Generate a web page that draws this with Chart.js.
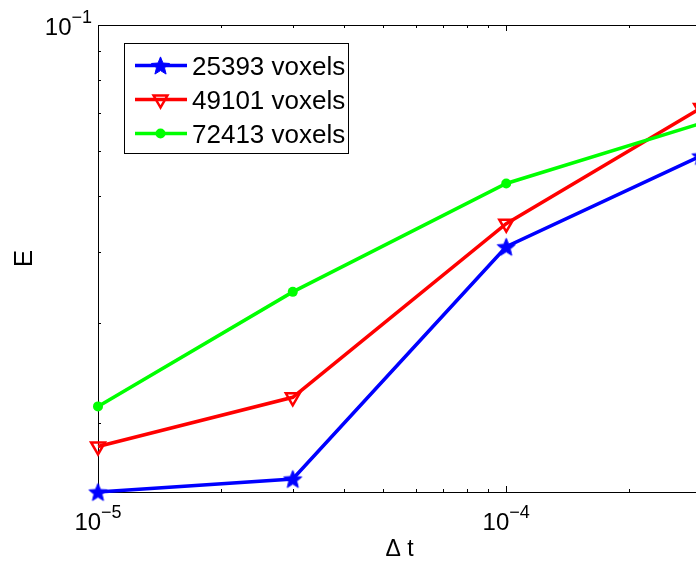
<!DOCTYPE html>
<html>
<head>
<meta charset="utf-8">
<script src="https://cdn.jsdelivr.net/npm/chart.js@4.4.0/dist/chart.umd.min.js"></script>
<style>
    html, body { margin: 0; padding: 0; background: #fff; overflow: hidden; }
    #wrap { width: 722px; height: 565px; position: relative; }
</style>
</head>
<body>
<div id="wrap"><canvas id="errChart"></canvas></div>
<script>
// data (log-log)
const dtValues = [1e-5, 3e-5, 1e-4, 3e-4];
const err25393 = [0.01514, 0.01596, 0.0408, 0.0589];
const err49101 = [0.0182, 0.0222, 0.0448, 0.0715];
const err72413 = [0.0214, 0.0340, 0.0527, 0.0672];
const seriesLabels = ['25393 voxels', '49101 voxels', '72413 voxels'];
const xTickExps = [-5, -4];
const yTickExps = [-1];
const xRange = [1e-5, 3e-4];
const yRange = [0.01514, 0.1];

const FONT = '"Liberation Sans", Arial, Helvetica, sans-serif';
const BLUE = '#0000ff', RED = '#ff0000', GREEN = '#00ff00';

// filled pentagram like matlab 'p' marker
function makeStar(color, r) {
    const size = Math.ceil(r * 2) + 2;
    const c = document.createElement('canvas');
    c.width = size; c.height = size;
    const ctx = c.getContext('2d');
    const cx = size / 2, cy = size / 2 + r * 0.095;
    ctx.fillStyle = color;
    ctx.strokeStyle = color;
    ctx.lineWidth = 1;
    ctx.lineJoin = 'round';
    ctx.beginPath();
    for (let i = 0; i < 10; i++) {
        const rad = i % 2 ? r * 0.44 : r;
        const a = -Math.PI / 2 + i * Math.PI / 5;
        ctx.lineTo(cx + rad * Math.cos(a), cy + rad * Math.sin(a));
    }
    ctx.closePath();
    ctx.fill();
    ctx.stroke();
    return c;
}
const starImg = makeStar(BLUE, 9.5);

const toPoints = (ys) => dtValues.map((x, i) => ({ x: x, y: ys[i] }));

// minor ticks 2..9 x 10^k inside a range
function minorTicks(range) {
    const out = [];
    for (let k = Math.floor(Math.log10(range[0])); k <= Math.ceil(Math.log10(range[1])); k++) {
        for (let m = 1; m <= 9; m++) {
            const v = m * Math.pow(10, k);
            if (v >= range[0] * 0.999 && v <= range[1] * 1.001) out.push({ v: v, major: m === 1 });
        }
    }
    return out;
}

// "10" with superscript exponent
function drawPow(ctx, exp, x, y, align) {
    const big = '24px ' + FONT, small = '18px ' + FONT;
    const sup = '\u2212' + Math.abs(exp);
    ctx.font = big; const w1 = ctx.measureText('10').width;
    ctx.font = small; const w2 = ctx.measureText(sup).width;
    let x0 = x;
    if (align === 'center') x0 = x - (w1 + w2) / 2;
    if (align === 'right') x0 = x - (w1 + w2);
    ctx.fillStyle = '#000';
    ctx.textAlign = 'left';
    ctx.textBaseline = 'alphabetic';
    ctx.font = big; ctx.fillText('10', x0, y);
    ctx.font = small; ctx.fillText(sup, x0 + w1, y - 12);
}

const matlabAxes = {
    id: 'matlabAxes',
    beforeDatasetsDraw(chart) {
        const { ctx, chartArea: a, scales: { x, y } } = chart;
        ctx.save();
        ctx.strokeStyle = '#000';
        ctx.lineWidth = 1;
        ctx.strokeRect(a.left + 0.5, a.top + 0.5, a.right - a.left, a.bottom - a.top);
        ctx.beginPath();
        minorTicks(xRange).forEach(t => {
            const px = Math.round(x.getPixelForValue(t.v)) + 0.5;
            const len = t.major ? 6 : 3;
            ctx.moveTo(px, a.bottom); ctx.lineTo(px, a.bottom - len);
            ctx.moveTo(px, a.top); ctx.lineTo(px, a.top + len);
        });
        minorTicks(yRange).forEach(t => {
            const py = Math.round(y.getPixelForValue(t.v)) + 0.5;
            const len = t.major ? 6 : 3;
            ctx.moveTo(a.left, py); ctx.lineTo(a.left + len, py);
            ctx.moveTo(a.right, py); ctx.lineTo(a.right - len, py);
        });
        ctx.stroke();

        xTickExps.forEach(e => drawPow(ctx, e, x.getPixelForValue(Math.pow(10, e)), a.bottom + 38, 'center'));
        yTickExps.forEach(e => drawPow(ctx, e, a.left - 6, y.getPixelForValue(Math.pow(10, e)) + 10, 'right'));

        // axis titles
        ctx.fillStyle = '#000';
        ctx.font = '23px ' + FONT;
        ctx.textAlign = 'center';
        ctx.fillText('\u0394 t', (a.left + a.right) / 2, 556);
        ctx.save();
        ctx.translate(32, (a.top + a.bottom) / 2);
        ctx.rotate(-Math.PI / 2);
        ctx.font = '26px ' + FONT;
        ctx.fillText('E', 0, 0);
        ctx.restore();
        ctx.restore();
    },
    afterDraw(chart) {
        const ctx = chart.ctx;
        const colors = [BLUE, RED, GREEN];
        ctx.save();
        ctx.fillStyle = '#fff';
        ctx.fillRect(124.5, 43.5, 224, 110);
        ctx.strokeStyle = '#000';
        ctx.lineWidth = 1;
        ctx.strokeRect(124.5, 43.5, 224, 110);
        seriesLabels.forEach((lab, i) => {
            const cy = 65.5 + i * 34;
            ctx.strokeStyle = colors[i];
            ctx.lineWidth = 3.5;
            ctx.beginPath(); ctx.moveTo(135, cy); ctx.lineTo(187, cy); ctx.stroke();
            if (i === 0) {
                ctx.drawImage(starImg, 160.5 - starImg.width / 2, cy - starImg.height / 2);
            } else if (i === 1) {
                const r = 8;
                ctx.lineWidth = 2.5;
                ctx.fillStyle = '#fff';
                ctx.beginPath();
                ctx.moveTo(160.5, cy + r);
                ctx.lineTo(160.5 - r * 0.866, cy - r / 2);
                ctx.lineTo(160.5 + r * 0.866, cy - r / 2);
                ctx.closePath();
                ctx.stroke();
            } else {
                ctx.fillStyle = GREEN;
                ctx.beginPath(); ctx.arc(160.5, cy, 5, 0, Math.PI * 2); ctx.fill();
            }
            ctx.fillStyle = '#000';
            ctx.font = '26px ' + FONT;
            ctx.textAlign = 'left';
            ctx.textBaseline = 'alphabetic';
            ctx.fillText(lab, 192, cy + 9.5);
        });
        ctx.restore();
    }
};

new Chart(document.getElementById('errChart').getContext('2d'), {
    type: 'line',
    data: {
        datasets: [
            { label: seriesLabels[0], data: toPoints(err25393), borderColor: BLUE, borderWidth: 3.5,
              pointStyle: starImg, pointRadius: 10, order: 2, clip: false },
            { label: seriesLabels[1], data: toPoints(err49101), borderColor: RED, borderWidth: 3.5,
              pointStyle: 'triangle', rotation: 180, pointRadius: 8, pointBorderWidth: 2.5,
              pointBorderColor: RED, pointBackgroundColor: 'rgba(0,0,0,0)', order: 1, clip: false },
            { label: seriesLabels[2], data: toPoints(err72413), borderColor: GREEN, borderWidth: 3.5,
              pointStyle: 'circle', pointRadius: 5, pointBorderWidth: 0,
              pointBackgroundColor: GREEN, order: 0, clip: false }
        ]
    },
    options: {
        responsive: true,
        maintainAspectRatio: false,
        animation: false,
        layout: { padding: { left: 98, top: 25, right: 21, bottom: 73 } },
        elements: { line: { tension: 0 } },
        scales: {
            x: { type: 'logarithmic', min: xRange[0], max: xRange[1], display: false },
            y: { type: 'logarithmic', min: yRange[0], max: yRange[1], display: false }
        },
        plugins: { legend: { display: false }, tooltip: { enabled: false } }
    },
    plugins: [matlabAxes]
});
</script>
</body>
</html>
